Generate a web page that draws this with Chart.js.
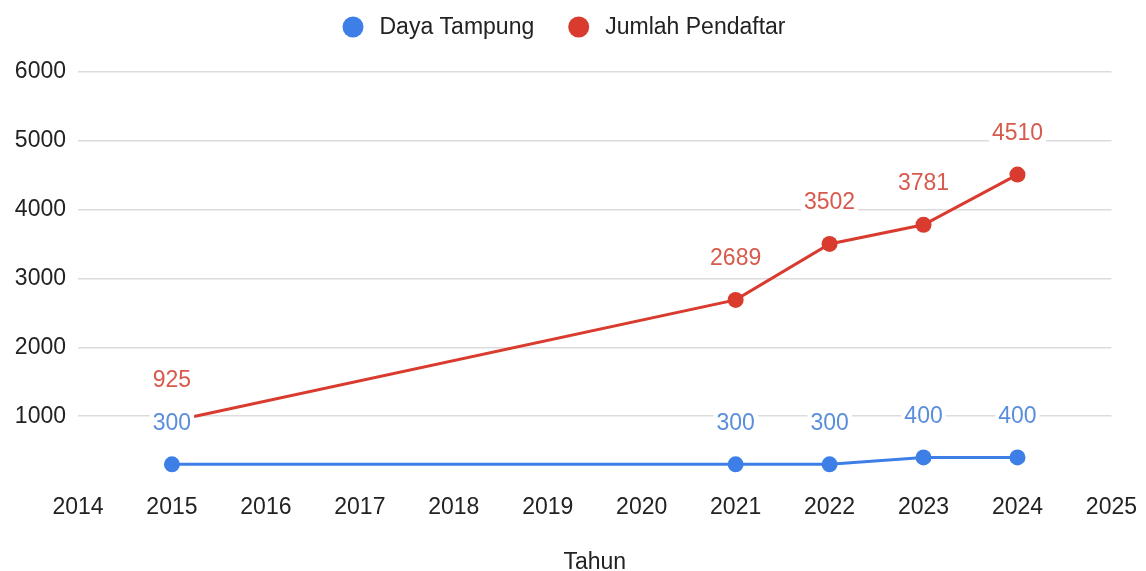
<!DOCTYPE html>
<html>
<head>
<meta charset="utf-8">
<title>Daya Tampung vs Jumlah Pendaftar</title>
<script src="https://cdn.jsdelivr.net/npm/chart.js@4.4.1/dist/chart.umd.min.js"></script>
<style>
    html, body { margin: 0; padding: 0; background: #fff; }
    #wrap { width: 1146px; height: 571px; }
</style>
</head>
<body>
<div id="wrap"><canvas id="chart" width="1146" height="571"></canvas></div>
<script>
// --- data ---
const tahun = [2015, 2021, 2022, 2023, 2024];
const dayaTampung = [300, 300, 300, 400, 400];
const jumlahPendaftar = [925, 2689, 3502, 3781, 4510];
const xTicks = [2014, 2025];          // axis range
const yTicks = [0, 6000, 1000];       // min, max, step

const BLUE = '#3d7fe6';
const RED = '#d93b2e';
const FONT = '"Liberation Sans", Arial, sans-serif';

const toPoints = vals => tahun.map((t, i) => ({ x: t, y: vals[i] }));

// value labels above each point, with a white box behind the text
const valueLabels = {
    id: 'valueLabels',
    afterDatasetsDraw(chart) {
        const ctx = chart.ctx;
        ctx.save();
        ctx.font = '23px ' + FONT;
        ctx.textAlign = 'center';
        ctx.textBaseline = 'middle';
        // red first so the blue labels sit on top of the red line
        [1, 0].forEach(di => {
            const ds = chart.data.datasets[di];
            const meta = chart.getDatasetMeta(di);
            meta.data.forEach((pt, i) => {
                const txt = String(ds.data[i].y);
                const w = ctx.measureText(txt).width;
                const y = pt.y - 42;
                ctx.fillStyle = '#fff';
                ctx.fillRect(pt.x - w / 2 - 3, y - 13, w + 6, 26);
                ctx.fillStyle = ds.labelColor;
                ctx.fillText(txt, pt.x, y + 1);
            });
        });
        ctx.restore();
    }
};

// legend row at the top: circle + name for each series
const legendRow = {
    id: 'legendRow',
    afterDraw(chart) {
        const ctx = chart.ctx;
        const r = 10.5, gap = 16, itemGap = 34, cy = 27;
        ctx.save();
        ctx.font = '23px ' + FONT;
        ctx.textBaseline = 'middle';
        const items = chart.data.datasets.map(ds => ({
            label: ds.label, color: ds.borderColor, w: ctx.measureText(ds.label).width
        }));
        const total = items.reduce((s, it) => s + 2 * r + gap + it.w, 0) + itemGap * (items.length - 1);
        let x = 564 - total / 2;
        items.forEach(it => {
            ctx.fillStyle = it.color;
            ctx.beginPath();
            ctx.arc(x + r, cy, r, 0, Math.PI * 2);
            ctx.fill();
            ctx.fillStyle = '#222';
            ctx.fillText(it.label, x + 2 * r + gap, cy + 1);
            x += 2 * r + gap + it.w + itemGap;
        });
        ctx.restore();
    }
};

new Chart(document.getElementById('chart'), {
    type: 'line',
    data: {
        datasets: [
            {
                label: 'Daya Tampung',
                data: toPoints(dayaTampung),
                borderColor: BLUE,
                backgroundColor: BLUE,
                labelColor: '#5a8edb',
                borderWidth: 3,
                pointRadius: 8,
                pointHoverRadius: 8,
                pointBorderWidth: 0,
                tension: 0
            },
            {
                label: 'Jumlah Pendaftar',
                data: toPoints(jumlahPendaftar),
                borderColor: RED,
                backgroundColor: RED,
                labelColor: '#d85a4d',
                borderWidth: 3,
                pointRadius: 8,
                pointHoverRadius: 8,
                pointBorderWidth: 0,
                tension: 0
            }
        ]
    },
    options: {
        responsive: false,
        animation: false,
        layout: { padding: { top: 72, left: 0, right: 34, bottom: 0 } },
        plugins: {
            legend: { display: false },
            tooltip: { enabled: false }
        },
        scales: {
            x: {
                type: 'linear',
                min: xTicks[0],
                max: xTicks[1],
                afterFit: s => { s.height = 86; },
                grid: { display: false, drawTicks: false },
                border: { display: false },
                ticks: {
                    stepSize: 1,
                    padding: 9,
                    color: '#222',
                    font: { family: FONT, size: 23 },
                    callback: v => String(v)
                },
                title: {
                    display: true,
                    text: 'Tahun',
                    color: '#222',
                    padding: { top: 0, bottom: -3 },
                    font: { family: FONT, size: 23, lineHeight: 1 }
                }
            },
            y: {
                min: yTicks[0],
                max: yTicks[1],
                afterFit: s => { s.width = 78; },
                grid: {
                    drawTicks: false,
                    lineWidth: 1.5,
                    color: c => c.tick && c.tick.value === 0 ? 'rgba(0,0,0,0)' : '#dcdcdc'
                },
                border: { display: false },
                ticks: {
                    stepSize: yTicks[2],
                    padding: 12,
                    color: '#222',
                    font: { family: FONT, size: 23 },
                    callback: v => v === 0 ? '' : String(v)
                }
            }
        }
    },
    plugins: [valueLabels, legendRow]
});
</script>
</body>
</html>
